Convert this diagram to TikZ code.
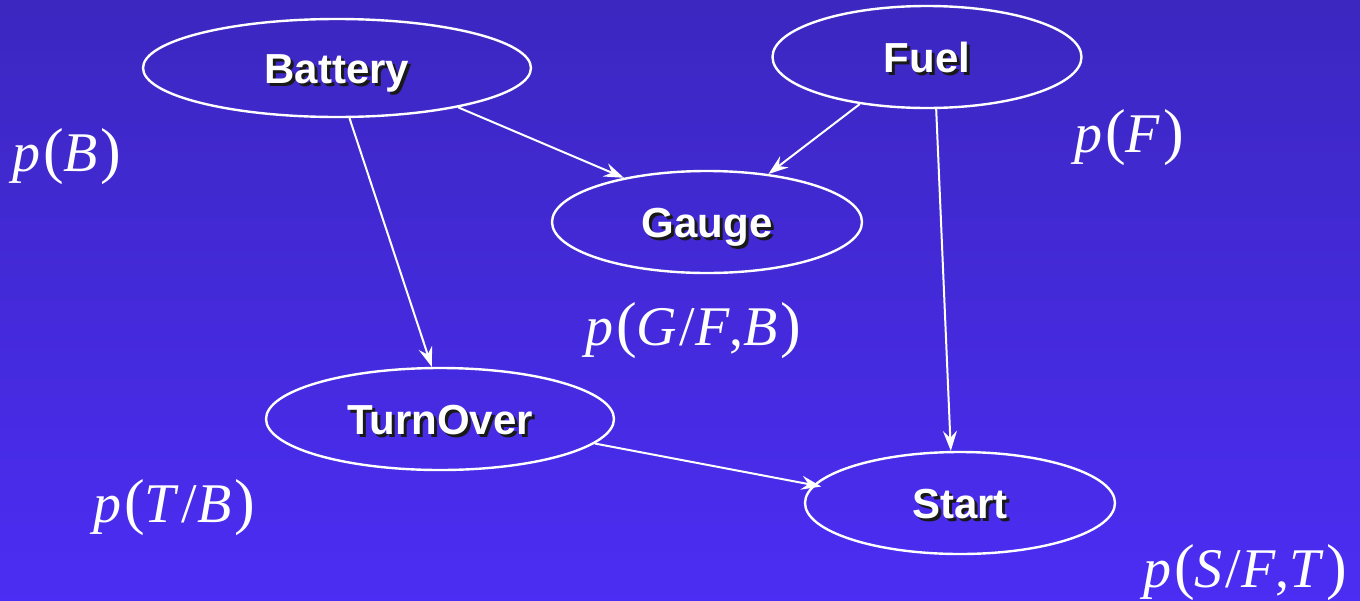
\documentclass[tikz,border=0pt]{standalone}
\usepackage{fontspec}
\setmainfont{Liberation Serif}
\newfontfamily\nodefont{Liberation Sans}
\newfontfamily\eqfont[LetterSpace=5]{Liberation Serif}
\usetikzlibrary{shapes.geometric,arrows.meta}

\definecolor{bgtop}{RGB}{60,39,192}
\definecolor{bgbot}{RGB}{75,45,243}

% white bold text with a dark drop shadow
\newcommand\shadowed[1]{\makebox[0pt][l]{\hspace{3pt}\raisebox{-3pt}{\color{black!90}#1}}#1}
% larger parentheses for the probability labels
\newcommand\bp[1]{{\fontsize{62}{62}\selectfont #1}}

\tikzset{
  var/.style={ellipse, draw=white, line width=2.4pt, inner sep=0pt,
    text=white, font=\nodefont\bfseries\fontsize{42}{42}\selectfont,
    text height=30pt, text depth=0pt},
  edge/.style={draw=white, line width=2pt,
    -{Stealth[length=20pt,width=14pt,inset=7pt]}},
  prob/.style={text=white, inner sep=0pt, anchor=base west,
    font=\eqfont\fontsize{56}{56}\selectfont},
}

\begin{document}
\begin{tikzpicture}[x=1pt,y=-1pt]
  % background
  \shade[top color=bgtop, bottom color=bgbot] (0,0) rectangle (1360,600);
  \useasboundingbox (0,0) rectangle (1360,600);

  % variables
  \node[var, minimum width=388pt, minimum height=98pt]  (bat) at (337,68)  {\shadowed{Battery}};
  \node[var, minimum width=309pt, minimum height=102pt] (fue) at (927,57)  {\shadowed{Fuel}};
  \node[var, minimum width=310pt, minimum height=102pt] (gau) at (707,222) {\shadowed{Gauge}};
  \node[var, minimum width=348pt, minimum height=102pt] (tur) at (440,419) {\shadowed{TurnOver}};
  \node[var, minimum width=310pt, minimum height=102pt] (sta) at (960,503) {\shadowed{Start}};

  % dependencies
  \draw[edge] (bat.-18) -- (gau.152);
  \draw[edge] (fue.215) -- (gau.38);
  \draw[edge] (bat.-76) -- (tur.99);
  \draw[edge] (fue.-80) -- (sta.100);
  \draw[edge, shorten >=-8pt] (tur.-9) -- (sta.173);

  % factors of the joint distribution
  \node[prob] (pB)  at (12,171)   {\textit{p}\bp{(}\textit{B}\bp{)}};
  \node[prob] (pF)  at (1074,152) {\textit{p}\bp{(}\textit{F}\bp{)}};
  \node[prob] (pG)  at (585,345)  {\textit{p}\bp{(}\textit{G}/\textit{F},\textit{B}\bp{)}};
  \node[prob] (pT)  at (93,522)   {\textit{p}\bp{(}\textit{T}/\textit{B}\bp{)}};
  \node[prob] (pS)  at (1143,587) {\textit{p}\bp{(}\textit{S}/\textit{F},\textit{T}\bp{)}};
\end{tikzpicture}
\end{document}
